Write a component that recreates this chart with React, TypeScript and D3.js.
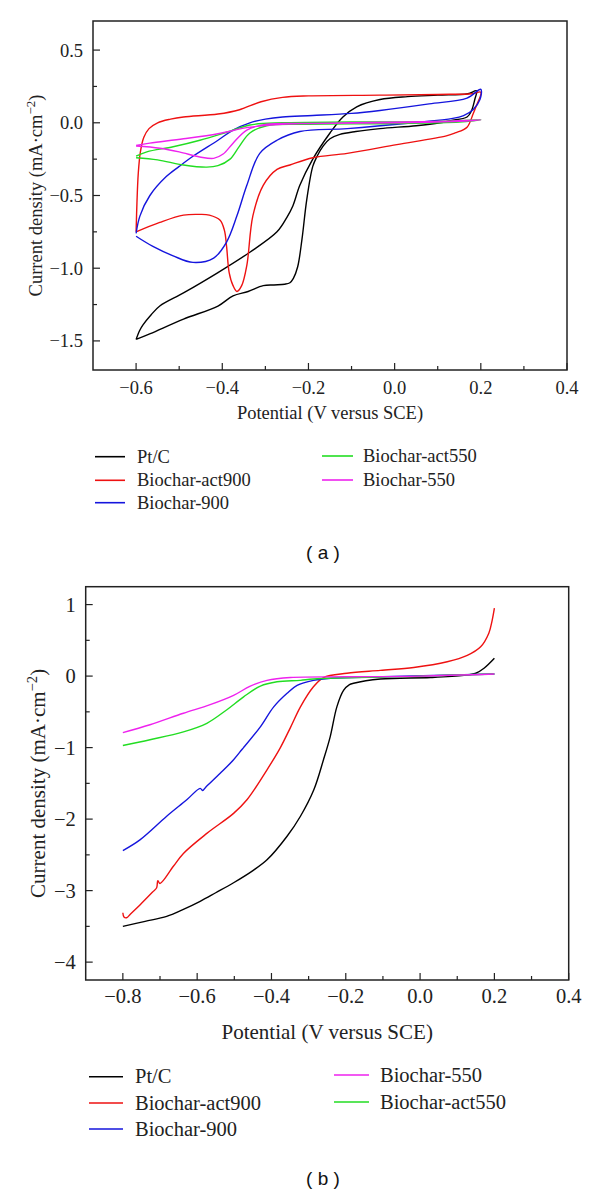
import React from "react";
import * as d3 from "d3";

type Pt = [number, number];

// ---------- Panel (a): cyclic voltammograms ----------
const xTicksA = [-0.6, -0.4, -0.2, 0.0, 0.2, 0.4];
const xMinorA = [-0.5, -0.3, -0.1, 0.1, 0.3];
const yTicksA = [0.5, 0.0, -0.5, -1.0, -1.5];
const yMinorA = [0.25, -0.25, -0.75, -1.25];

const cvPtC: Pt[] = [
  [-0.6, -1.49], [-0.592, -1.43], [-0.584, -1.39], [-0.565, -1.32], [-0.545, -1.26], [-0.49, -1.17],
  [-0.41, -1.03], [-0.336, -0.89], [-0.273, -0.75], [-0.25, -0.65], [-0.236, -0.57], [-0.22, -0.43],
  [-0.19, -0.25], [-0.15, -0.07], [-0.12, 0.04], [-0.088, 0.11], [-0.034, 0.16], [0.03, 0.18],
  [0.1, 0.19], [0.17, 0.2], [0.19, 0.22],
  [0.186, 0.16], [0.178, 0.08], [0.168, 0.04], [0.13, 0.015], [0.105, 0.0], [0.05, -0.02],
  [-0.034, -0.04], [-0.09, -0.06], [-0.127, -0.08], [-0.15, -0.11], [-0.166, -0.16], [-0.18, -0.23],
  [-0.19, -0.3], [-0.204, -0.53], [-0.215, -0.8], [-0.225, -0.99], [-0.235, -1.07], [-0.243, -1.1],
  [-0.255, -1.11], [-0.28, -1.115], [-0.305, -1.12], [-0.34, -1.16], [-0.375, -1.19], [-0.41, -1.26],
  [-0.49, -1.35], [-0.567, -1.45], [-0.6, -1.49],
];

const cvAct900: Pt[] = [
  [-0.6, -0.75], [-0.598, -0.55], [-0.595, -0.35], [-0.59, -0.2], [-0.582, -0.1], [-0.57, -0.04],
  [-0.55, 0.0], [-0.52, 0.025], [-0.49, 0.04], [-0.41, 0.06], [-0.36, 0.09], [-0.31, 0.145],
  [-0.26, 0.175], [-0.2, 0.185], [-0.034, 0.19], [0.1, 0.195], [0.18, 0.2], [0.2, 0.21],
  [0.19, 0.12], [0.182, 0.06], [0.168, -0.03], [0.14, -0.07], [0.12, -0.09], [0.005, -0.15],
  [-0.11, -0.21], [-0.19, -0.24], [-0.243, -0.29], [-0.273, -0.32], [-0.305, -0.43], [-0.329, -0.64],
  [-0.343, -0.98], [-0.355, -1.12], [-0.366, -1.16], [-0.375, -1.12], [-0.384, -1.03], [-0.39, -0.85],
  [-0.395, -0.74], [-0.405, -0.67], [-0.43, -0.635], [-0.452, -0.63], [-0.49, -0.635], [-0.545, -0.685],
  [-0.6, -0.75],
];

const cv900: Pt[] = [
  [-0.6, -0.76], [-0.591, -0.64], [-0.568, -0.5], [-0.53, -0.37], [-0.5, -0.3],
  [-0.468, -0.23], [-0.41, -0.12], [-0.375, -0.05], [-0.336, 0.0], [-0.3, 0.025],
  [-0.26, 0.04], [-0.19, 0.05], [-0.1, 0.065], [-0.034, 0.085], [0.08, 0.13], [0.168, 0.17], [0.2, 0.23],
  [0.198, 0.16], [0.182, 0.09], [0.16, 0.05], [0.135, 0.03], [0.042, 0.0], [-0.11, -0.04],
  [-0.22, -0.06], [-0.273, -0.12], [-0.313, -0.21], [-0.343, -0.43], [-0.366, -0.64], [-0.39, -0.82],
  [-0.42, -0.93], [-0.468, -0.96], [-0.514, -0.915], [-0.561, -0.85], [-0.6, -0.78],
];

const cvAct550: Pt[] = [
  [-0.6, -0.23], [-0.575, -0.2], [-0.514, -0.165], [-0.452, -0.12], [-0.39, -0.065], [-0.336, -0.015],
  [-0.26, 0.0], [-0.1, 0.005], [0.1, 0.01], [0.2, 0.02],
  [0.15, 0.005], [0.0, -0.005], [-0.2, -0.01], [-0.297, -0.02], [-0.336, -0.07], [-0.36, -0.16],
  [-0.382, -0.25], [-0.41, -0.295], [-0.436, -0.305], [-0.49, -0.29], [-0.55, -0.255], [-0.6, -0.24],
];

const cv550: Pt[] = [
  [-0.6, -0.155], [-0.568, -0.14], [-0.49, -0.11], [-0.41, -0.075], [-0.336, -0.03], [-0.26, -0.01],
  [-0.1, 0.0], [0.1, 0.01], [0.2, 0.02],
  [0.15, 0.01], [0.0, 0.0], [-0.2, -0.005], [-0.297, -0.01], [-0.343, -0.05], [-0.375, -0.14],
  [-0.398, -0.215], [-0.42, -0.245], [-0.452, -0.235], [-0.5, -0.2], [-0.545, -0.175], [-0.6, -0.16],
];

// ---------- Panel (b): linear sweep voltammograms ----------
const xTicksB = [-0.8, -0.6, -0.4, -0.2, 0.0, 0.2, 0.4];
const xMinorB = [-0.7, -0.5, -0.3, -0.1, 0.1, 0.3];
const yTicksB = [1, 0, -1, -2, -3, -4];
const yMinorB = [0.5, -0.5, -1.5, -2.5, -3.5];

const lsvPtC: Pt[] = [
  [-0.8, -3.5], [-0.74, -3.43], [-0.682, -3.36], [-0.64, -3.27], [-0.592, -3.15], [-0.55, -3.03],
  [-0.502, -2.89], [-0.45, -2.72], [-0.412, -2.57], [-0.358, -2.24], [-0.322, -1.96],
  [-0.286, -1.59], [-0.26, -1.17], [-0.242, -0.85], [-0.224, -0.43], [-0.206, -0.2], [-0.19, -0.12],
  [-0.179, -0.1], [-0.107, -0.04], [0.028, -0.02], [0.118, 0.01], [0.15, 0.04], [0.172, 0.11], [0.2, 0.25],
];

const lsvAct900: Pt[] = [
  [-0.8, -3.31], [-0.797, -3.37], [-0.79, -3.38], [-0.78, -3.33], [-0.754, -3.2], [-0.72, -3.02],
  [-0.709, -2.96], [-0.706, -2.86], [-0.7, -2.9], [-0.664, -2.66], [-0.637, -2.48], [-0.574, -2.2],
  [-0.502, -1.92], [-0.466, -1.73], [-0.412, -1.31], [-0.376, -1.0], [-0.349, -0.72], [-0.322, -0.43],
  [-0.287, -0.15], [-0.26, -0.02], [-0.197, 0.04], [-0.107, 0.08], [-0.017, 0.12], [0.073, 0.2],
  [0.127, 0.29], [0.163, 0.41], [0.185, 0.6], [0.194, 0.78], [0.2, 0.95],
];

const lsv900: Pt[] = [
  [-0.8, -2.44], [-0.754, -2.29], [-0.682, -1.96], [-0.628, -1.73], [-0.592, -1.57], [-0.585, -1.6],
  [-0.578, -1.56], [-0.538, -1.36], [-0.502, -1.17], [-0.48, -1.03], [-0.475, -1.0], [-0.43, -0.71],
  [-0.394, -0.43], [-0.358, -0.24], [-0.331, -0.13], [-0.287, -0.06], [-0.24, -0.03], [-0.1, -0.01],
  [0.2, 0.03],
];

const lsvAct550: Pt[] = [
  [-0.8, -0.97], [-0.727, -0.89], [-0.637, -0.78], [-0.574, -0.66], [-0.52, -0.47], [-0.475, -0.29],
  [-0.43, -0.14], [-0.385, -0.08], [-0.322, -0.06], [-0.287, -0.04], [0.0, 0.0], [0.2, 0.03],
];

const lsv550: Pt[] = [
  [-0.8, -0.79], [-0.727, -0.68], [-0.637, -0.52], [-0.565, -0.4], [-0.502, -0.27], [-0.457, -0.14],
  [-0.412, -0.06], [-0.349, -0.02], [-0.2, -0.01], [0.0, 0.0], [0.2, 0.03],
];

const COLORS: Record<string, string> = {
  "Pt/C": "#000000",
  "Biochar-act900": "#ee1111",
  "Biochar-900": "#1515dd",
  "Biochar-act550": "#22dd22",
  "Biochar-550": "#ee22ee",
};

type Series = { name: string; data: Pt[] };

const seriesA: Series[] = [
  { name: "Pt/C", data: cvPtC },
  { name: "Biochar-act900", data: cvAct900 },
  { name: "Biochar-900", data: cv900 },
  { name: "Biochar-act550", data: cvAct550 },
  { name: "Biochar-550", data: cv550 },
];
const seriesB: Series[] = [
  { name: "Pt/C", data: lsvPtC },
  { name: "Biochar-act900", data: lsvAct900 },
  { name: "Biochar-900", data: lsv900 },
  { name: "Biochar-act550", data: lsvAct550 },
  { name: "Biochar-550", data: lsv550 },
];

const legendLeftA = ["Pt/C", "Biochar-act900", "Biochar-900"];
const legendRightA = ["Biochar-act550", "Biochar-550"];
const legendLeftB = ["Pt/C", "Biochar-act900", "Biochar-900"];
const legendRightB = ["Biochar-550", "Biochar-act550"];

const SERIF = "Liberation Serif, Tinos, Times New Roman, DejaVu Serif, serif";
const SANS = "Liberation Sans, Arimo, Arial, DejaVu Sans, sans-serif";

const fmtMinus = (s: string) => s.replace("-", "\u2212");

type PanelProps = {
  series: Series[];
  box: { l: number; r: number; t: number; b: number };
  xDom: [number, number];
  yDom: [number, number];
  xTicks: number[];
  xMinor: number[];
  yTicks: number[];
  yMinor: number[];
  yFmt: (v: number) => string;
  fs: number;
  labelFs: number;
  yLabelX: number;
  xLabelY: number;
  tickLabelDy: number;
  legend: {
    left: string[];
    right: string[];
    lx: [number, number];
    rx: [number, number];
    ltx: number;
    rtx: number;
    ly: number[];
    ry: number[];
    fs: number;
  };
  tag: string;
  tagY: number;
  curve: d3.CurveFactory;
};

function Panel(p: PanelProps) {
  const x = d3.scaleLinear().domain(p.xDom).range([p.box.l, p.box.r]);
  const y = d3.scaleLinear().domain(p.yDom).range([p.box.b, p.box.t]);
  const line = d3
    .line<Pt>()
    .x((d) => x(d[0]))
    .y((d) => y(d[1]))
    .curve(p.curve);
  const axisColor = "#222";
  const cy = (p.box.t + p.box.b) / 2;
  const cx = (p.box.l + p.box.r) / 2;
  const serifStyle = { fontFamily: SERIF };
  return (
    <g>
      {p.series.map((s) => (
        <path
          key={s.name}
          d={line(s.data) || ""}
          fill="none"
          stroke={COLORS[s.name]}
          strokeWidth={1.4}
          strokeLinejoin="round"
        />
      ))}
      <rect
        x={p.box.l}
        y={p.box.t}
        width={p.box.r - p.box.l}
        height={p.box.b - p.box.t}
        fill="none"
        stroke={axisColor}
        strokeWidth={1.5}
      />
      {p.xTicks.map((v) => (
        <g key={"xt" + v}>
          <line x1={x(v)} x2={x(v)} y1={p.box.b} y2={p.box.b - 7} stroke={axisColor} strokeWidth={1.2} />
          <text
            x={x(v)}
            y={p.box.b + p.tickLabelDy}
            textAnchor="middle"
            style={serifStyle}
            fontSize={p.fs}
            fill="#222"
          >
            {fmtMinus(v.toFixed(1))}
          </text>
        </g>
      ))}
      {p.xMinor.map((v) => (
        <line key={"xm" + v} x1={x(v)} x2={x(v)} y1={p.box.b} y2={p.box.b - 4} stroke={axisColor} strokeWidth={1.2} />
      ))}
      {p.yTicks.map((v) => (
        <g key={"yt" + v}>
          <line x1={p.box.l} x2={p.box.l + 7} y1={y(v)} y2={y(v)} stroke={axisColor} strokeWidth={1.2} />
          <text
            x={p.box.l - 10}
            y={y(v)}
            dy="0.35em"
            textAnchor="end"
            style={serifStyle}
            fontSize={p.fs}
            fill="#222"
          >
            {fmtMinus(p.yFmt(v))}
          </text>
        </g>
      ))}
      {p.yMinor.map((v) => (
        <line key={"ym" + v} x1={p.box.l} x2={p.box.l + 4} y1={y(v)} y2={y(v)} stroke={axisColor} strokeWidth={1.2} />
      ))}
      <text
        x={cx}
        y={p.xLabelY}
        textAnchor="middle"
        style={serifStyle}
        fontSize={p.labelFs}
        fill="#222"
      >
        Potential (V versus SCE)
      </text>
      <text
        transform={`translate(${p.yLabelX},${cy}) rotate(-90)`}
        textAnchor="middle"
        style={serifStyle}
        fontSize={p.labelFs}
        fill="#222"
      >
        Current density (mA·cm
        <tspan fontSize={p.labelFs * 0.7} dy={-p.labelFs * 0.4}>
          −2
        </tspan>
        <tspan dy={p.labelFs * 0.4}>)</tspan>
      </text>
      {p.legend.left.map((n, i) => (
        <g key={"ll" + n}>
          <line x1={p.legend.lx[0]} x2={p.legend.lx[1]} y1={p.legend.ly[i]} y2={p.legend.ly[i]} stroke={COLORS[n]} strokeWidth={1.6} />
          <text x={p.legend.ltx} y={p.legend.ly[i]} dy="0.33em" style={serifStyle} fontSize={p.legend.fs} fill="#222">
            {n}
          </text>
        </g>
      ))}
      {p.legend.right.map((n, i) => (
        <g key={"lr" + n}>
          <line x1={p.legend.rx[0]} x2={p.legend.rx[1]} y1={p.legend.ry[i]} y2={p.legend.ry[i]} stroke={COLORS[n]} strokeWidth={1.6} />
          <text x={p.legend.rtx} y={p.legend.ry[i]} dy="0.33em" style={serifStyle} fontSize={p.legend.fs} fill="#222">
            {n}
          </text>
        </g>
      ))}
      <text x={323} y={p.tagY} dy="0.35em" textAnchor="middle" style={{ fontFamily: SANS, whiteSpace: "pre" }} fontSize={19} fill="#111">
        {p.tag}
      </text>
    </g>
  );
}

export default function App() {
  return (
    <svg
      width={600}
      height={1193}
      viewBox="0 0 600 1193"
      style={{ position: "absolute", left: 0, top: 0, background: "#fff" }}
    >
      <rect x={0} y={0} width={600} height={1193} fill="#fff" />
      <Panel
        series={seriesA}
        box={{ l: 93, r: 567, t: 21, b: 370 }}
        xDom={[-0.7, 0.4]}
        yDom={[-1.7, 0.7]}
        xTicks={xTicksA}
        xMinor={xMinorA}
        yTicks={yTicksA}
        yMinor={yMinorA}
        yFmt={(v) => v.toFixed(1)}
        fs={18.5}
        labelFs={18.5}
        yLabelX={42}
        xLabelY={419}
        tickLabelDy={24}
        legend={{
          left: legendLeftA,
          right: legendRightA,
          lx: [95, 125],
          rx: [322, 353],
          ltx: 137,
          rtx: 363,
          ly: [456.7, 480.3, 502.7],
          ry: [456, 480],
          fs: 18.5,
        }}
        tag="( a )"
        tagY={552}
        curve={d3.curveCatmullRom.alpha(0.5)}
      />
      <Panel
        series={seriesB}
        box={{ l: 85.7, r: 568.7, t: 586.7, b: 980 }}
        xDom={[-0.9, 0.4]}
        yDom={[-4.25, 1.25]}
        xTicks={xTicksB}
        xMinor={xMinorB}
        yTicks={yTicksB}
        yMinor={yMinorB}
        yFmt={(v) => v.toFixed(0)}
        fs={20.5}
        labelFs={21}
        yLabelX={45}
        xLabelY={1039}
        tickLabelDy={23}
        legend={{
          left: legendLeftB,
          right: legendRightB,
          lx: [89, 123],
          rx: [334, 369],
          ltx: 135,
          rtx: 380,
          ly: [1076.7, 1103, 1129],
          ry: [1075, 1102],
          fs: 20.5,
        }}
        tag="( b )"
        tagY={1178}
        curve={d3.curveCatmullRom.alpha(0.5)}
      />
    </svg>
  );
}
